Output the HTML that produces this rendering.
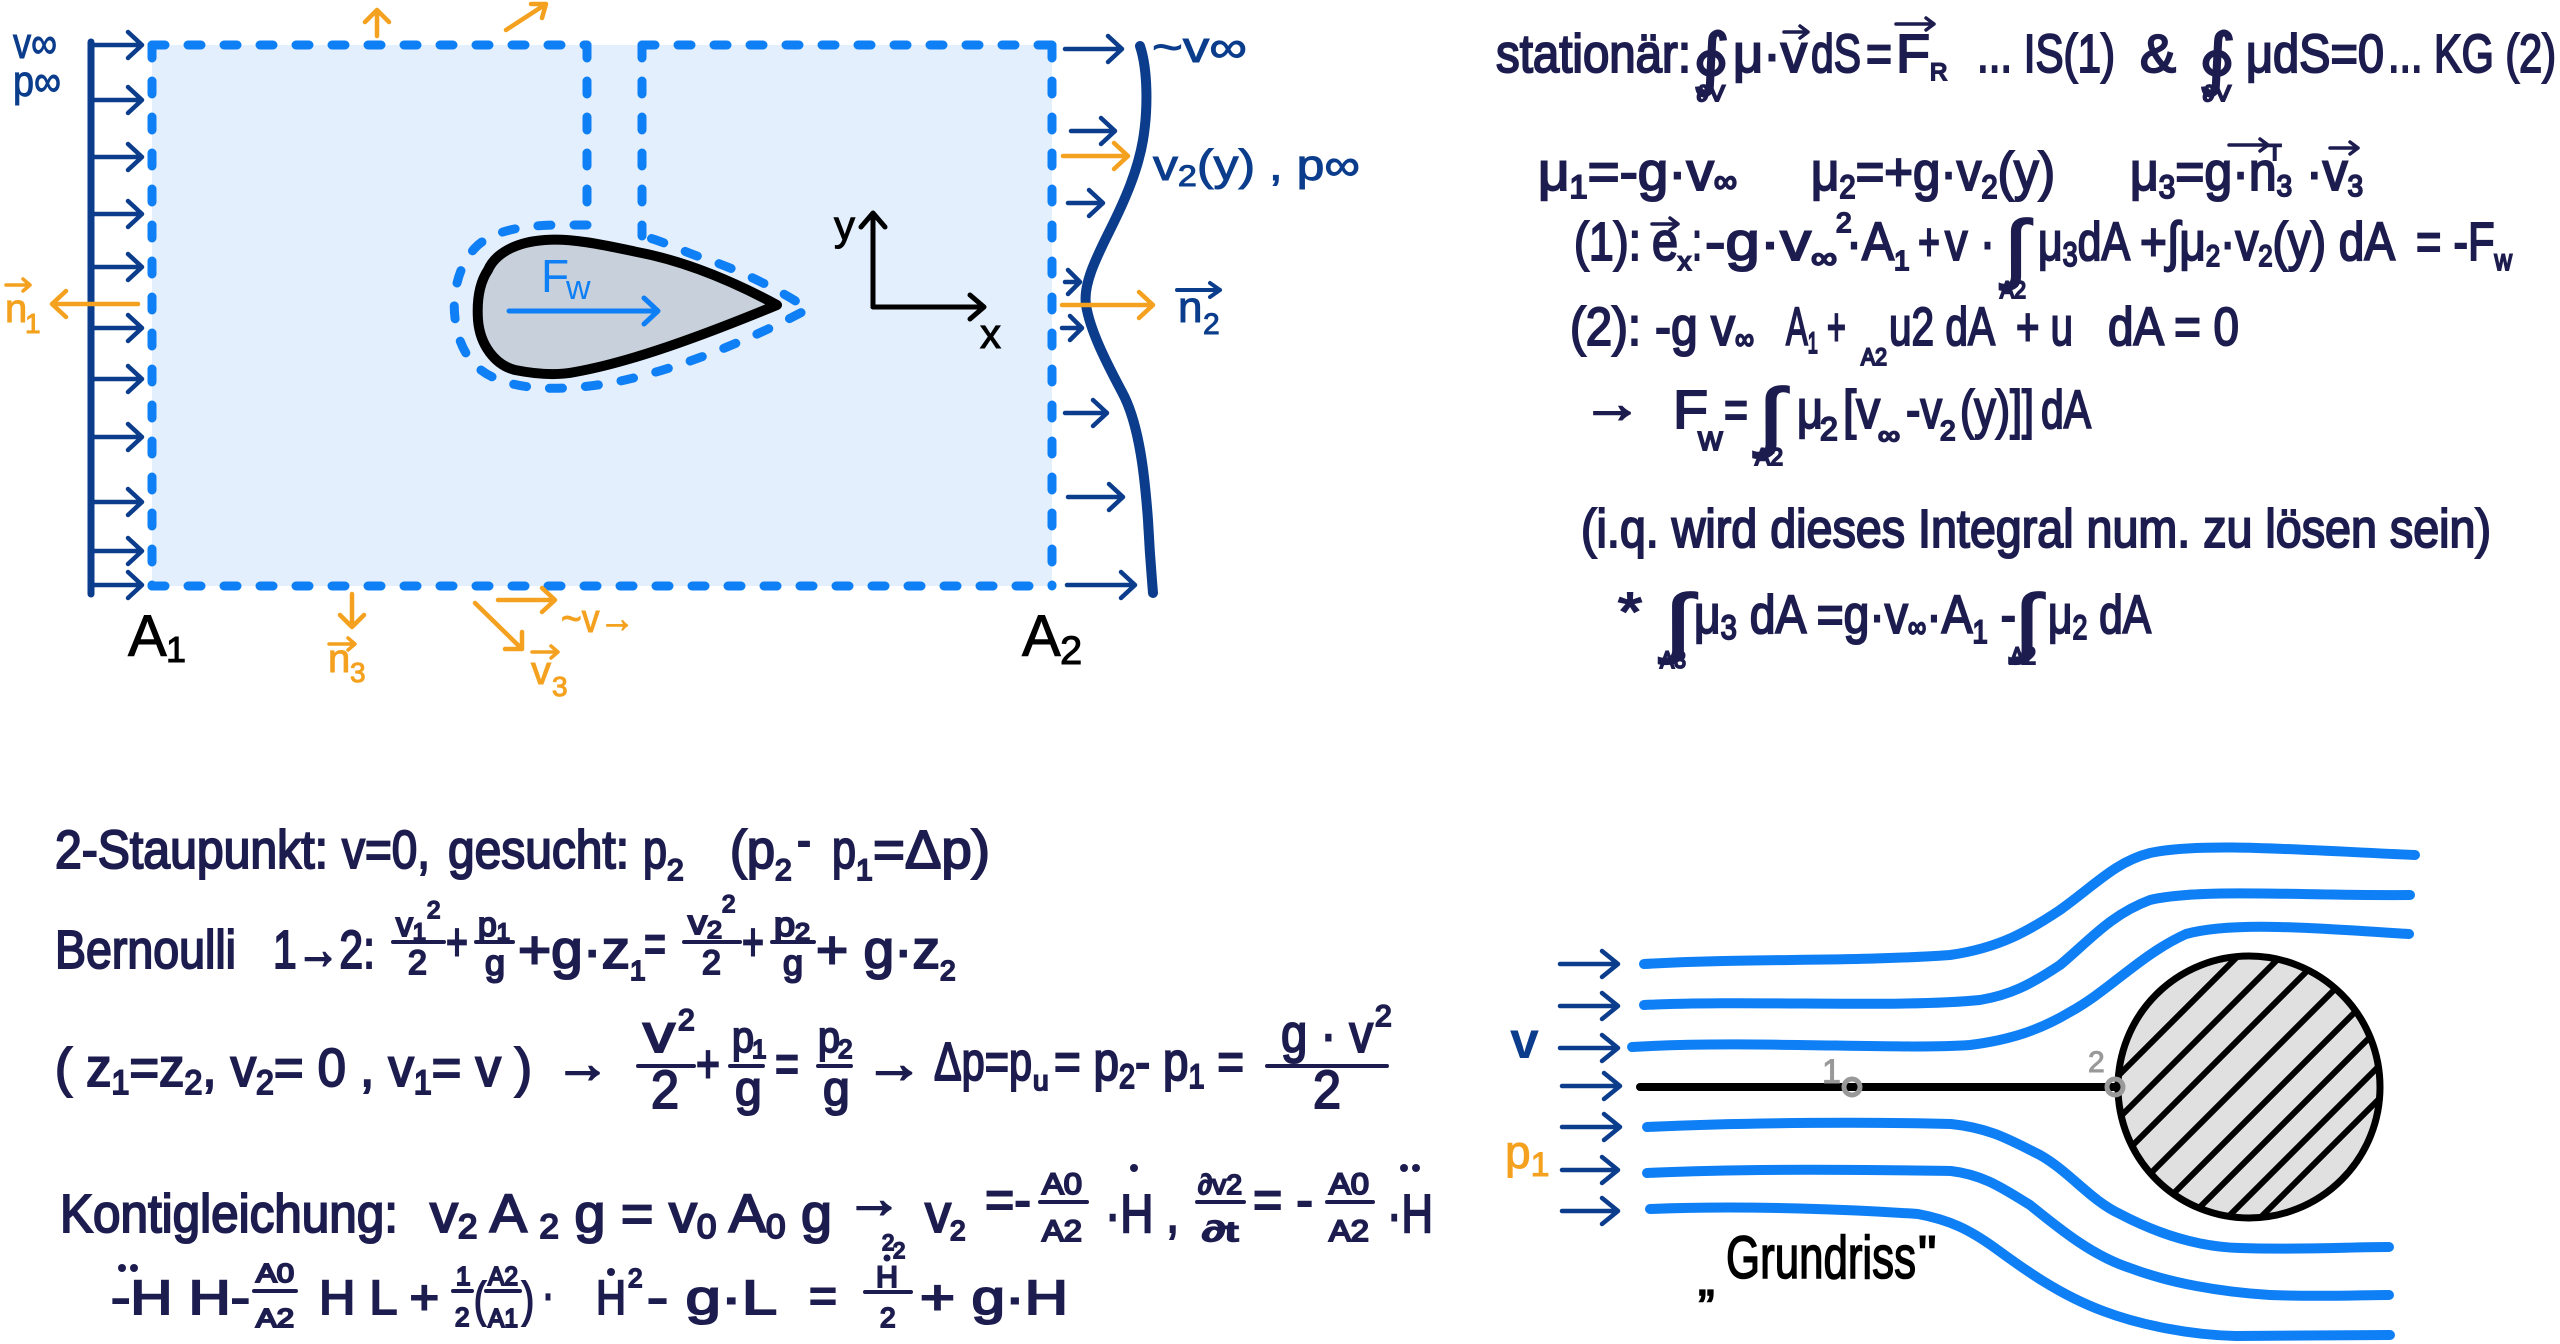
<!DOCTYPE html>
<html><head><meta charset="utf-8"><style>
html,body{margin:0;padding:0;background:#fff;}
svg{display:block;}
</style></head><body>
<svg width="2560" height="1344" viewBox="0 0 2560 1344" xmlns="http://www.w3.org/2000/svg">
<rect width="2560" height="1344" fill="#fff"/>
<defs>
<clipPath id="cc"><circle cx="2249" cy="1087" r="130"/></clipPath>
</defs>

<!-- ===== Top-left control volume diagram ===== -->
<rect x="152" y="45" width="900" height="541" fill="#e3effd"/>
<path d="M777,305 C740,285 690,262 637,252 C600,244 570,238 545,240 C515,242 495,254 488,270 C478,285 477,305 478,320 C480,345 495,365 515,370 C535,374 555,376 575,372 C620,364 680,345 777,305 Z" fill="#c8d1db" stroke="#000" stroke-width="10" stroke-linejoin="round"/>
<g stroke="#0f7ff5" stroke-width="9" stroke-linecap="round" fill="none" stroke-dasharray="13 23">
<path d="M152,45 L587,45"/>
<path d="M642,45 L1052,45"/>
<path d="M152,45 L152,586"/>
<path d="M1052,45 L1052,586"/>
<path d="M152,586 L1052,586"/>
<path d="M587,45 L587,225"/>
<path d="M642,45 L642,236"/>
<path d="M587,225 L560,225 C520,225 490,232 475,248 C458,266 452,295 455,318 C458,345 470,370 500,380 C530,392 580,390 625,380 C680,368 750,340 808,309 C780,290 740,270 700,257 C680,250 660,240 642,236"/>
</g>
<!-- Fw -->
<g stroke="#0f7ff5" stroke-width="5" fill="none" stroke-linecap="round" stroke-linejoin="round">
<path d="M509,311 H658 M644,298 L658,311 L644,324"/>
</g>
<g fill="#0f7ff5" font-family="'Liberation Sans','DejaVu Sans',sans-serif">
<text x="541" y="292" font-size="46">F</text>
<text x="566" y="299" font-size="34">w</text>
</g>
<!-- axes -->
<g stroke="#000" stroke-width="5" fill="none" stroke-linecap="round" stroke-linejoin="round">
<path d="M873,307 V213 M861,227 L873,213 L885,227"/>
<path d="M873,307 H984 M970,295 L984,307 L970,319"/>
</g>
<g fill="#000" stroke="#000" stroke-width="1" font-family="'Liberation Sans','DejaVu Sans',sans-serif" font-size="42">
<text x="834" y="240">y</text>
<text x="980" y="348">x</text>
<text x="128" y="656" font-size="58">A</text><text x="166" y="662" font-size="36">1</text>
<text x="1022" y="656" font-size="58">A</text><text x="1060" y="664" font-size="40">2</text>
</g>

<!-- left inflow line + arrows -->
<g stroke="#0b3d8c" stroke-width="4.5" fill="none" stroke-linecap="round" stroke-linejoin="round">
<path d="M91,42 V594" stroke-width="7"/>
<path d="M91,45 H142 M128,32 L142,45 L128,58"/>
<path d="M91,100 H142 M128,87 L142,100 L128,113"/>
<path d="M91,157 H142 M128,144 L142,157 L128,170"/>
<path d="M91,214 H142 M128,201 L142,214 L128,227"/>
<path d="M91,267 H142 M128,254 L142,267 L128,280"/>
<path d="M91,328 H142 M128,315 L142,328 L128,341"/>
<path d="M91,379 H142 M128,366 L142,379 L128,392"/>
<path d="M91,437 H142 M128,424 L142,437 L128,450"/>
<path d="M91,502 H142 M128,489 L142,502 L128,515"/>
<path d="M91,551 H142 M128,538 L142,551 L128,564"/>
<path d="M91,585 H142 M128,572 L142,585 L128,598"/>
<!-- right side arrows -->
<path d="M1065,49 H1122 M1108,36 L1122,49 L1108,62"/>
<path d="M1071,131 H1115 M1101,118 L1115,131 L1101,144"/>
<path d="M1068,203 H1103 M1089,190 L1103,203 L1089,216"/>
<path d="M1065,282 H1080 M1068,270 L1080,282 L1068,294"/>
<path d="M1062,328 H1082 M1070,316 L1082,328 L1070,340"/>
<path d="M1065,413 H1107 M1093,400 L1107,413 L1093,426"/>
<path d="M1068,497 H1123 M1109,484 L1123,497 L1109,510"/>
<path d="M1067,585 H1135 M1121,572 L1135,585 L1121,598"/>
<!-- wavy outflow line -->
<path d="M1140,46 C1148,70 1148,110 1143,140 C1138,170 1125,200 1110,230 C1095,260 1083,285 1086,305 C1090,330 1105,360 1122,392 C1140,425 1145,480 1148,520 C1150,560 1152,580 1153,593" stroke-width="10"/>
<!-- arrow over n2 -->
<path d="M1177,290 H1220 M1210,283 L1220,290 L1210,297" stroke-width="4"/>
</g>
<g fill="#0b3d8c" stroke="#0b3d8c" stroke-width="1" font-family="'Liberation Sans','DejaVu Sans',sans-serif" font-size="44">
<text x="13" y="58" textLength="44" lengthAdjust="spacingAndGlyphs">v∞</text>
<text x="13" y="96" textLength="48" lengthAdjust="spacingAndGlyphs">p∞</text>
<text x="1152" y="62" textLength="95" lengthAdjust="spacingAndGlyphs">~v∞</text>
<text x="1153" y="180" textLength="207" lengthAdjust="spacingAndGlyphs">v<tspan font-size="30" dy="6">2</tspan><tspan dy="-6">(y) , p∞</tspan></text>
<text x="1178" y="322">n</text><text x="1203" y="334" font-size="30">2</text>
</g>

<!-- orange vectors -->
<g stroke="#f4a11f" stroke-width="4.5" fill="none" stroke-linecap="round" stroke-linejoin="round">
<path d="M1063,156 H1128 M1114,143 L1128,156 L1114,169"/>
<path d="M1062,305 H1153 M1139,292 L1153,305 L1139,318"/>
<path d="M138,304 H52 M66,291 L52,304 L66,317"/>
<path d="M377,36 V10 M365,22 L377,10 L389,22"/>
<path d="M506,30 L546,4 M531,4 L546,4 L542,18"/>
<path d="M352,594 V627 M340,615 L352,627 L364,615"/>
<path d="M475,603 L522,649 M505,649 L522,649 L522,632"/>
<path d="M498,600 H555 M542,588 L555,600 L542,612"/>
<path d="M6,285 H30 M23,279 L30,285 L23,291" stroke-width="3.5"/>
<path d="M329,644 H355 M348,638 L355,644 L348,650" stroke-width="3.5"/>
<path d="M532,652 H558 M551,646 L558,652 L551,658" stroke-width="3.5"/>
</g>
<g fill="#f4a11f" stroke="#f4a11f" stroke-width="1" font-family="'Liberation Sans','DejaVu Sans',sans-serif" font-size="40">
<text x="5" y="322">n</text><text x="25" y="333" font-size="28">1</text>
<text x="328" y="672">n</text><text x="350" y="682" font-size="28">3</text>
<text x="531" y="684">v</text><text x="552" y="696" font-size="28">3</text>
<text x="561" y="632" textLength="74" lengthAdjust="spacingAndGlyphs">~v→</text>
</g>

<!-- ===== Bottom-right streamline diagram ===== -->
<g stroke="#0b3d8c" stroke-width="4.5" fill="none" stroke-linecap="round" stroke-linejoin="round">
<path d="M1560,964 H1618 M1602,951 L1618,964 L1602,977"/>
<path d="M1560,1006 H1618 M1602,993 L1618,1006 L1602,1019"/>
<path d="M1560,1048 H1618 M1602,1035 L1618,1048 L1602,1061"/>
<path d="M1562,1086 H1620 M1604,1073 L1620,1086 L1604,1099"/>
<path d="M1562,1127 H1620 M1604,1114 L1620,1127 L1604,1140"/>
<path d="M1562,1170 H1618 M1602,1157 L1618,1170 L1602,1183"/>
<path d="M1562,1211 H1618 M1602,1198 L1618,1211 L1602,1224"/>
</g>
<g stroke="#0f7ff5" stroke-width="10" fill="none" stroke-linecap="round" stroke-linejoin="round">
<path d="M1644,964 C1750,958 1850,962 1950,955 C2000,948 2030,930 2060,910 C2095,885 2115,862 2150,853 C2200,842 2300,850 2415,855"/>
<path d="M1644,1005 C1750,1000 1900,1008 1980,1000 C2010,995 2030,985 2060,965 C2090,940 2110,915 2150,900 C2200,888 2300,896 2410,895"/>
<path d="M1632,1047 C1750,1040 1900,1050 1970,1045 C2010,1040 2040,1030 2070,1012 C2110,990 2140,955 2186,934 C2230,922 2300,927 2409,934"/>
<path d="M1647,1127 C1750,1122 1880,1122 1951,1124 C1990,1128 2010,1140 2040,1155 C2070,1172 2090,1200 2120,1214 C2160,1235 2200,1247 2240,1248 C2300,1250 2350,1247 2389,1247"/>
<path d="M1647,1173 C1750,1168 1880,1170 1951,1171 C1985,1175 2005,1190 2030,1205 C2055,1225 2090,1255 2130,1268 C2170,1283 2220,1292 2270,1295 C2320,1297 2360,1295 2389,1295"/>
<path d="M1650,1209 C1750,1205 1860,1210 1918,1214 C1950,1220 1970,1230 1995,1248 C2025,1270 2060,1295 2103,1311 C2140,1325 2190,1335 2236,1336 C2300,1336 2350,1335 2390,1335"/>
</g>
<path d="M1640,1087 H2116" stroke="#000" stroke-width="8" stroke-linecap="round"/>
<circle cx="2249" cy="1087" r="131" fill="#e0e0e0"/>
<g clip-path="url(#cc)" stroke="#000" stroke-width="6">
<path d="M2109,1085 L2389,805"/>
<path d="M2109,1128 L2389,848"/>
<path d="M2109,1169 L2389,889"/>
<path d="M2109,1215 L2389,935"/>
<path d="M2109,1258 L2389,978"/>
<path d="M2109,1298 L2389,1018"/>
<path d="M2109,1336 L2389,1056"/>
<path d="M2109,1369 L2389,1089"/>
</g>
<circle cx="2249" cy="1087" r="131" fill="none" stroke="#000" stroke-width="7"/>
<g fill="none" stroke="#999" stroke-width="5">
<circle cx="1852" cy="1087" r="8"/>
<circle cx="2115" cy="1087" r="8"/>
</g>
<g fill="#999" stroke="#999" stroke-width="1" font-family="'Liberation Sans','DejaVu Sans',sans-serif">
<text x="1822" y="1083" font-size="34">1</text>
<text x="2088" y="1072" font-size="30">2</text>
</g>
<g font-family="'Liberation Sans','DejaVu Sans',sans-serif">
<text x="1510" y="1058" font-size="52" font-weight="bold" fill="#0b3d8c">v</text>
<text x="1505" y="1168" font-size="46" fill="#f4a11f" stroke="#f4a11f" stroke-width="1">p<tspan font-size="34" dy="8">1</tspan></text>
<g fill="#000" stroke="#000" stroke-width="1.6">
<text x="1698" y="1295" font-size="50">„</text>
<text x="1726" y="1278" font-size="60" textLength="190" lengthAdjust="spacingAndGlyphs">Grundriss</text>
<text x="1918" y="1272" font-size="52">"</text>
</g>
</g>

<!-- ===== Top-right equations ===== -->
<g fill="#1d1c4f" stroke="#1d1c4f" stroke-width="2" font-size="54" font-family="'Liberation Sans','DejaVu Sans',sans-serif">
<!-- line 1 -->
<text x="1496" y="72" textLength="195" lengthAdjust="spacingAndGlyphs">stationär:</text>
<text x="1692" y="82" font-size="68" textLength="38" lengthAdjust="spacingAndGlyphs">∮</text>
<text x="1697" y="101" font-size="22" textLength="28" lengthAdjust="spacingAndGlyphs">∂V</text>
<text x="1733" y="72" textLength="74" lengthAdjust="spacingAndGlyphs">μ·v</text>
<text x="1811" y="72" textLength="50" lengthAdjust="spacingAndGlyphs">dS</text>
<text x="1866" y="72" textLength="26" lengthAdjust="spacingAndGlyphs">=</text>
<text x="1896" y="72" textLength="34" lengthAdjust="spacingAndGlyphs">F</text>
<text x="1930" y="80" font-size="24">R</text>
<text x="1977" y="72" textLength="138" lengthAdjust="spacingAndGlyphs">... IS(1)</text>
<text x="2140" y="72" textLength="36" lengthAdjust="spacingAndGlyphs">&amp;</text>
<text x="2198" y="82" font-size="68" textLength="38" lengthAdjust="spacingAndGlyphs">∮</text>
<text x="2203" y="101" font-size="22" textLength="28" lengthAdjust="spacingAndGlyphs">∂V</text>
<text x="2246" y="72" textLength="138" lengthAdjust="spacingAndGlyphs">μdS=0</text>
<text x="2388" y="72" textLength="168" lengthAdjust="spacingAndGlyphs">... KG (2)</text>
<!-- line 2 -->
<text x="1538" y="190" textLength="199" lengthAdjust="spacingAndGlyphs">μ<tspan font-size="32" dy="8">1</tspan><tspan dy="-8">=-g·v</tspan><tspan font-size="32" dy="2">∞</tspan></text>
<text x="1811" y="190" textLength="244" lengthAdjust="spacingAndGlyphs">μ<tspan font-size="32" dy="8">2</tspan><tspan dy="-8">=+g·v</tspan><tspan font-size="32" dy="8">2</tspan><tspan dy="-8">(y)</tspan></text>
<text x="2130" y="190" textLength="233" lengthAdjust="spacingAndGlyphs">μ<tspan font-size="32" dy="8">3</tspan><tspan dy="-8">=g·n</tspan><tspan font-size="30" dy="6">3</tspan><tspan dy="-6"> ·v</tspan><tspan font-size="30" dy="6">3</tspan></text>
<text x="2268" y="160" font-size="22">T</text>
<!-- line 3 -->
<text x="1574" y="260" textLength="67" lengthAdjust="spacingAndGlyphs">(1):</text>
<text x="1652" y="260" textLength="26" lengthAdjust="spacingAndGlyphs">e</text>
<text x="1678" y="270" font-size="26">x</text>
<text x="1692" y="260" textLength="10" lengthAdjust="spacingAndGlyphs">:</text>
<text x="1705" y="260" textLength="106" lengthAdjust="spacingAndGlyphs">-g·v</text>
<text x="1811" y="268" font-size="30" textLength="26" lengthAdjust="spacingAndGlyphs">∞</text>
<text x="1836" y="232" font-size="28">2</text>
<text x="1846" y="260" textLength="48" lengthAdjust="spacingAndGlyphs">·A</text>
<text x="1894" y="270" font-size="28">1</text>
<text x="1918" y="260" textLength="22" lengthAdjust="spacingAndGlyphs">+</text>
<text x="1945" y="260" textLength="50" lengthAdjust="spacingAndGlyphs">v ·</text>
<text x="2004" y="274" font-size="76" textLength="24" lengthAdjust="spacingAndGlyphs">∫</text>
<text x="2000" y="298" font-size="24" textLength="26" lengthAdjust="spacingAndGlyphs">A2</text>
<text x="2038" y="260" textLength="92" lengthAdjust="spacingAndGlyphs">μ<tspan font-size="34" dy="6">3</tspan><tspan dy="-6">dA</tspan></text>
<text x="2140" y="260" textLength="255" lengthAdjust="spacingAndGlyphs">+∫μ<tspan font-size="30" dy="6">2</tspan><tspan dy="-6">·v</tspan><tspan font-size="30" dy="6">2</tspan><tspan dy="-6">(y) dA</tspan></text>
<text x="2416" y="260" textLength="96" lengthAdjust="spacingAndGlyphs">= -F<tspan font-size="30" dy="10">w</tspan></text>
<!-- line 4 -->
<text x="1570" y="345" textLength="71" lengthAdjust="spacingAndGlyphs">(2):</text>
<text x="1655" y="345" textLength="99" lengthAdjust="spacingAndGlyphs">-g v<tspan font-size="30" dy="4">∞</tspan></text>
<text x="1786" y="345" textLength="60" lengthAdjust="spacingAndGlyphs">A<tspan font-size="30" dy="8">1</tspan><tspan dy="-8"> +</tspan></text>
<text x="1861" y="365" font-size="24" textLength="26" lengthAdjust="spacingAndGlyphs">A2</text>
<text x="1889" y="345" textLength="106" lengthAdjust="spacingAndGlyphs">u2 dA</text>
<text x="2016" y="345" textLength="57" lengthAdjust="spacingAndGlyphs">+ u</text>
<text x="2108" y="345" textLength="131" lengthAdjust="spacingAndGlyphs">dA = 0</text>
<!-- line 5 -->
<text x="1582" y="422" textLength="60" lengthAdjust="spacingAndGlyphs">→</text>
<text x="1673" y="428" textLength="35" lengthAdjust="spacingAndGlyphs">F</text>
<text x="1698" y="450" font-size="26">W</text>
<text x="1724" y="428" textLength="24" lengthAdjust="spacingAndGlyphs">=</text>
<text x="1758" y="442" font-size="76" textLength="26" lengthAdjust="spacingAndGlyphs">∫</text>
<text x="1755" y="465" font-size="24" textLength="28" lengthAdjust="spacingAndGlyphs">A2</text>
<text x="1797" y="428" textLength="26" lengthAdjust="spacingAndGlyphs">μ</text>
<text x="1820" y="440" font-size="32">2</text>
<text x="1843" y="428" textLength="37" lengthAdjust="spacingAndGlyphs">[v</text>
<text x="1878" y="444" font-size="26" textLength="22" lengthAdjust="spacingAndGlyphs">∞</text>
<text x="1906" y="428" textLength="36" lengthAdjust="spacingAndGlyphs">-v</text>
<text x="1940" y="440" font-size="28">2</text>
<text x="1960" y="428" textLength="74" lengthAdjust="spacingAndGlyphs">(y)]]</text>
<text x="2041" y="428" textLength="50" lengthAdjust="spacingAndGlyphs">dA</text>
<!-- line 6 -->
<text x="1581" y="547" textLength="910" lengthAdjust="spacingAndGlyphs">(i.q. wird dieses Integral num. zu lösen sein)</text>
<!-- line 7 -->
<text x="1618" y="630" textLength="24" lengthAdjust="spacingAndGlyphs">*</text>
<text x="1664" y="648" font-size="76" textLength="28" lengthAdjust="spacingAndGlyphs">∫</text>
<text x="1660" y="668" font-size="24" textLength="26" lengthAdjust="spacingAndGlyphs">A3</text>
<text x="1694" y="633" textLength="322" lengthAdjust="spacingAndGlyphs">μ<tspan font-size="34" dy="6">3</tspan><tspan dy="-6"> dA =g·v</tspan><tspan font-size="30" dy="4">∞</tspan><tspan dy="-4">·A</tspan><tspan font-size="32" dy="10">1</tspan><tspan dy="-10"> -</tspan></text>
<text x="2014" y="648" font-size="76" textLength="26" lengthAdjust="spacingAndGlyphs">∫</text>
<text x="2010" y="664" font-size="24" textLength="26" lengthAdjust="spacingAndGlyphs">A2</text>
<text x="2048" y="633" textLength="103" lengthAdjust="spacingAndGlyphs">μ<tspan font-size="34" dy="6">2</tspan><tspan dy="-6"> dA</tspan></text>
</g>
<g stroke="#1d1c4f" stroke-width="3.5" fill="none" stroke-linecap="round" stroke-linejoin="round">
<path d="M1784,32 H1808 M1800,26 L1808,32 L1800,38"/>
<path d="M1896,24 H1934 M1926,18 L1934,24 L1926,30"/>
<path d="M2229,145 H2268 M2260,139 L2268,145 L2260,151"/>
<path d="M2330,148 H2358 M2350,142 L2358,148 L2350,154"/>
<path d="M1652,224 H1678 M1670,218 L1678,224 L1670,230"/>
</g>

<!-- ===== Bottom-left equations ===== -->
<g fill="#1d1c4f" stroke="#1d1c4f" stroke-width="2" font-size="54" font-family="'Liberation Sans','DejaVu Sans',sans-serif">
<!-- B1 -->
<text x="55" y="868" textLength="273" lengthAdjust="spacingAndGlyphs">2-Staupunkt:</text>
<text x="342" y="868" textLength="88" lengthAdjust="spacingAndGlyphs">v=0,</text>
<text x="448" y="868" textLength="181" lengthAdjust="spacingAndGlyphs">gesucht:</text>
<text x="643" y="868" textLength="24" lengthAdjust="spacingAndGlyphs">p</text>
<text x="667" y="880" font-size="30">2</text>
<text x="730" y="868" textLength="45" lengthAdjust="spacingAndGlyphs">(p</text>
<text x="775" y="880" font-size="30">2</text>
<text x="797" y="858" textLength="14" lengthAdjust="spacingAndGlyphs">-</text>
<text x="832" y="868" textLength="24" lengthAdjust="spacingAndGlyphs">p</text>
<text x="856" y="880" font-size="30">1</text>
<text x="873" y="868" textLength="117" lengthAdjust="spacingAndGlyphs">=Δp)</text>
<!-- B2 -->
<text x="55" y="968" textLength="181" lengthAdjust="spacingAndGlyphs">Bernoulli</text>
<text x="273" y="968" textLength="102" lengthAdjust="spacingAndGlyphs">1→2:</text>
<text x="396" y="936" font-size="34" textLength="30" lengthAdjust="spacingAndGlyphs">v<tspan font-size="24" dy="4">1</tspan></text>
<text x="427" y="918" font-size="24">2</text>
<text x="408" y="974" font-size="34">2</text>
<text x="446" y="960" textLength="22" lengthAdjust="spacingAndGlyphs">+</text>
<text x="478" y="936" font-size="34" textLength="32" lengthAdjust="spacingAndGlyphs">p<tspan font-size="24" dy="4">1</tspan></text>
<text x="485" y="975" font-size="36">g</text>
<text x="518" y="968" textLength="112" lengthAdjust="spacingAndGlyphs">+g·z</text>
<text x="630" y="980" font-size="28">1</text>
<text x="644" y="962" textLength="22" lengthAdjust="spacingAndGlyphs">=</text>
<text x="688" y="934" font-size="34" textLength="34" lengthAdjust="spacingAndGlyphs">v<tspan font-size="24" dy="4">2</tspan></text>
<text x="722" y="912" font-size="24">2</text>
<text x="702" y="974" font-size="34">2</text>
<text x="742" y="960" textLength="22" lengthAdjust="spacingAndGlyphs">+</text>
<text x="774" y="936" font-size="34" textLength="36" lengthAdjust="spacingAndGlyphs">p<tspan font-size="24" dy="4">2</tspan></text>
<text x="783" y="975" font-size="36">g</text>
<text x="816" y="968" textLength="124" lengthAdjust="spacingAndGlyphs">+ g·z</text>
<text x="940" y="980" font-size="28">2</text>
<!-- B3 -->
<text x="55" y="1086" textLength="477" lengthAdjust="spacingAndGlyphs">( z<tspan font-size="34" dy="8">1</tspan><tspan dy="-8">=z</tspan><tspan font-size="34" dy="8">2</tspan><tspan dy="-8">, v</tspan><tspan font-size="34" dy="8">2</tspan><tspan dy="-8">= 0 , v</tspan><tspan font-size="34" dy="8">1</tspan><tspan dy="-8">= v )</tspan></text>
<text x="555" y="1082" textLength="55" lengthAdjust="spacingAndGlyphs">→</text>
<text x="643" y="1052" textLength="32" lengthAdjust="spacingAndGlyphs">v</text>
<text x="678" y="1030" font-size="30">2</text>
<text x="651" y="1108" textLength="28" lengthAdjust="spacingAndGlyphs">2</text>
<text x="696" y="1082" textLength="24" lengthAdjust="spacingAndGlyphs">+</text>
<text x="732" y="1052" font-size="44" textLength="22" lengthAdjust="spacingAndGlyphs">p</text>
<text x="752" y="1058" font-size="26">1</text>
<text x="735" y="1105" font-size="48">g</text>
<text x="775" y="1082" textLength="24" lengthAdjust="spacingAndGlyphs">=</text>
<text x="818" y="1052" font-size="44" textLength="22" lengthAdjust="spacingAndGlyphs">p</text>
<text x="838" y="1058" font-size="26">2</text>
<text x="823" y="1105" font-size="48">g</text>
<text x="865" y="1082" textLength="58" lengthAdjust="spacingAndGlyphs">→</text>
<text x="934" y="1080" textLength="98" lengthAdjust="spacingAndGlyphs">Δp=p</text>
<text x="1033" y="1090" font-size="28">u</text>
<text x="1054" y="1080" textLength="190" lengthAdjust="spacingAndGlyphs">= p<tspan font-size="34" dy="8">2</tspan><tspan dy="-8">- p</tspan><tspan font-size="34" dy="8">1</tspan><tspan dy="-8"> =</tspan></text>
<text x="1281" y="1052" textLength="92" lengthAdjust="spacingAndGlyphs">g · v</text>
<text x="1375" y="1026" font-size="30">2</text>
<text x="1313" y="1108" textLength="28" lengthAdjust="spacingAndGlyphs">2</text>
<!-- B4 -->
<text x="60" y="1232" textLength="338" lengthAdjust="spacingAndGlyphs">Kontigleichung:</text>
<text x="430" y="1232" textLength="402" lengthAdjust="spacingAndGlyphs">v<tspan font-size="34" dy="6">2</tspan><tspan dy="-6"> A </tspan><tspan font-size="34" dy="6">2</tspan><tspan dy="-6"> g = v</tspan><tspan font-size="34" dy="6">0</tspan><tspan dy="-6"> A</tspan><tspan font-size="34" dy="6">0</tspan><tspan dy="-6"> g</tspan></text>
<text x="846" y="1217" textLength="56" lengthAdjust="spacingAndGlyphs">→</text>
<text x="893" y="1258" font-size="22">2</text>
<text x="925" y="1232" textLength="26" lengthAdjust="spacingAndGlyphs">v</text>
<text x="950" y="1240" font-size="28">2</text>
<text x="985" y="1218" textLength="46" lengthAdjust="spacingAndGlyphs">=-</text>
<text x="1042" y="1194" font-size="30" textLength="40" lengthAdjust="spacingAndGlyphs">A0</text>
<text x="1042" y="1241" font-size="30" textLength="40" lengthAdjust="spacingAndGlyphs">A2</text>
<text x="1105" y="1232" textLength="74" lengthAdjust="spacingAndGlyphs">·H ,</text>
<text x="1198" y="1194" font-size="28" textLength="44" lengthAdjust="spacingAndGlyphs">∂v2</text>
<text x="1202" y="1241" font-size="28" textLength="36" lengthAdjust="spacingAndGlyphs">∂t</text>
<text x="1253" y="1218" textLength="60" lengthAdjust="spacingAndGlyphs">= -</text>
<text x="1329" y="1194" font-size="30" textLength="40" lengthAdjust="spacingAndGlyphs">A0</text>
<text x="1329" y="1241" font-size="30" textLength="40" lengthAdjust="spacingAndGlyphs">A2</text>
<text x="1387" y="1232" textLength="46" lengthAdjust="spacingAndGlyphs">·H</text>
<!-- B5 -->
<text x="111" y="1314" font-size="48" textLength="139" lengthAdjust="spacingAndGlyphs">-H H-</text>
<text x="256" y="1282" font-size="26" textLength="38" lengthAdjust="spacingAndGlyphs">A0</text>
<text x="256" y="1327" font-size="26" textLength="38" lengthAdjust="spacingAndGlyphs">A2</text>
<text x="319" y="1314" font-size="48" textLength="120" lengthAdjust="spacingAndGlyphs">H L +</text>
<text x="456" y="1285" font-size="26">1</text>
<text x="455" y="1326" font-size="26">2</text>
<text x="474" y="1316" font-size="48" textLength="12" lengthAdjust="spacingAndGlyphs">(</text>
<text x="488" y="1285" font-size="26" textLength="30" lengthAdjust="spacingAndGlyphs">A2</text>
<text x="488" y="1327" font-size="26" textLength="30" lengthAdjust="spacingAndGlyphs">A1</text>
<text x="522" y="1316" font-size="48" textLength="12" lengthAdjust="spacingAndGlyphs">)</text>
<text x="542" y="1310" font-size="48" textLength="12" lengthAdjust="spacingAndGlyphs">·</text>
<text x="596" y="1314" font-size="48" textLength="30" lengthAdjust="spacingAndGlyphs">H</text>
<text x="628" y="1287" font-size="26">2</text>
<text x="647" y="1314" font-size="48" textLength="130" lengthAdjust="spacingAndGlyphs">- g·L</text>
<text x="809" y="1312" font-size="48" textLength="28" lengthAdjust="spacingAndGlyphs">=</text>
<text x="882" y="1250" font-size="22">2</text>
<text x="876" y="1287" font-size="30" textLength="22" lengthAdjust="spacingAndGlyphs">H</text>
<text x="880" y="1327" font-size="28">2</text>
<text x="920" y="1314" font-size="48" textLength="148" lengthAdjust="spacingAndGlyphs">+ g·H</text>
</g>
<!-- fraction bars and dots -->
<g stroke="#1d1c4f" stroke-width="4" stroke-linecap="round">
<path d="M393,942 H444 M476,942 H513 M684,942 H740 M772,942 H814"/>
<path d="M638,1066 H694 M730,1066 H763 M818,1066 H851 M1267,1066 H1387"/>
<path d="M1040,1202 H1087 M1197,1202 H1244 M1327,1202 H1373"/>
<path d="M254,1291 H296 M453,1291 H472 M486,1291 H520 M865,1292 H911"/>
</g>
<g fill="#1d1c4f">
<circle cx="1134" cy="1168" r="4"/>
<circle cx="1404" cy="1168" r="4"/>
<circle cx="1416" cy="1168" r="4"/>
<circle cx="122" cy="1268" r="4"/>
<circle cx="134" cy="1268" r="4"/>
<circle cx="611" cy="1272" r="4"/>
<circle cx="887" cy="1258" r="3.5"/>
</g>
</svg>
</body></html>
